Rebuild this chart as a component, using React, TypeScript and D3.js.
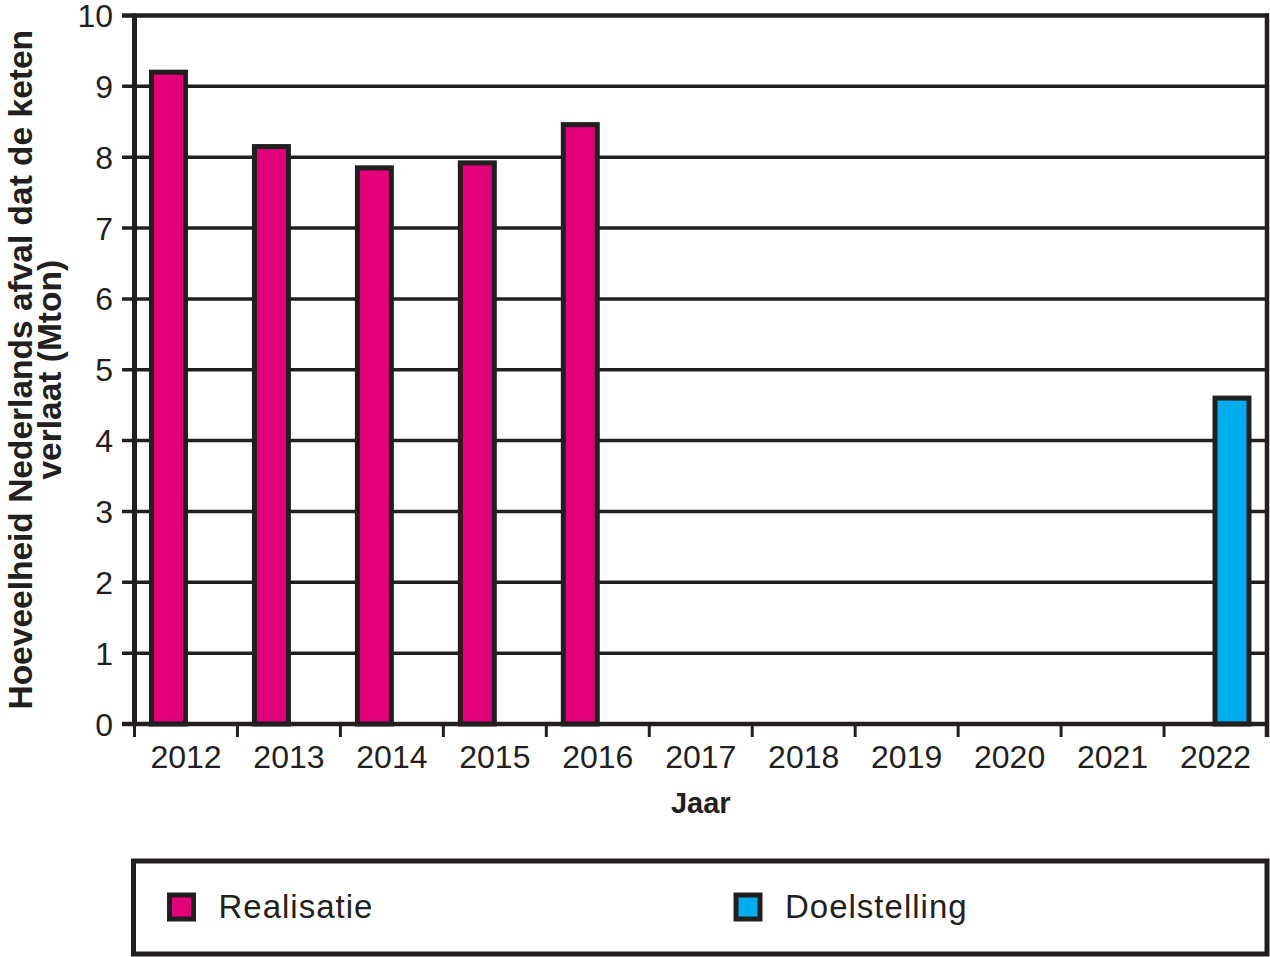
import React, { useEffect, useRef } from "react";
import * as d3 from "d3";

const years = ["2012","2013","2014","2015","2016","2017","2018","2019","2020","2021","2022"];
const seriesNames = ["Realisatie", "Doelstelling"];
const realisatie: (number | null)[] = [9.2, 8.15, 7.85, 7.92, 8.46, null, null, null, null, null, null];
const doelstelling: (number | null)[] = [null, null, null, null, null, null, null, null, null, null, 4.6];
const yTicks = [0, 1, 2, 3, 4, 5, 6, 7, 8, 9, 10];
const colors = ["#e2007a", "#00aeef"];
const yLabelLines = ["Hoeveelheid Nederlands afval dat de keten", "verlaat (Mton)"];
const xTitle = "Jaar";

const INK = "#231f20";
const FONT = "'Liberation Sans', Arial, Helvetica, sans-serif";

export default function App() {
  const ref = useRef<SVGSVGElement>(null);

  useEffect(() => {
    const svg = d3.select(ref.current);
    svg.selectAll("*").remove();

    const x0 = 134.5, x1 = 1267, yTop = 15.5, yBottom = 724;
    const x = d3.scaleBand<string>().domain(years).range([x0, x1]).padding(0);
    const bw = x.bandwidth();
    const inner = d3.scaleBand<string>().domain(seriesNames).range([bw * 0.165, bw * 0.825]).padding(0);
    const y = d3.scaleLinear().domain([0, 10]).range([yBottom, yTop]);

    const g = svg.append("g");

    // gridlines
    g.selectAll("line.grid")
      .data(yTicks.filter((t) => t !== 0 && t !== 10))
      .enter()
      .append("line")
      .attr("x1", 122)
      .attr("x2", x1)
      .attr("y1", (d) => y(d))
      .attr("y2", (d) => y(d))
      .attr("stroke", INK)
      .attr("stroke-width", 3.5);

    // top line
    g.append("line").attr("x1", 122).attr("x2", x1 + 2).attr("y1", y(10)).attr("y2", y(10))
      .attr("stroke", INK).attr("stroke-width", 4.5);

    // y tick labels
    g.selectAll("text.yt")
      .data(yTicks)
      .enter()
      .append("text")
      .attr("x", 113)
      .attr("y", (d) => y(d) + 11.5)
      .attr("text-anchor", "end")
      .attr("font-family", FONT)
      .attr("font-size", 32)
      .attr("fill", INK)
      .text((d) => String(d));

    // bars
    const series = [realisatie, doelstelling];
    series.forEach((vals, si) => {
      g.selectAll(`rect.s${si}`)
        .data(years.map((yr, i) => ({ yr, v: vals[i] })).filter((d) => d.v != null))
        .enter()
        .append("rect")
        .attr("x", (d) => (x(d.yr) as number) + (inner(seriesNames[si]) as number))
        .attr("width", inner.bandwidth())
        .attr("y", (d) => y(d.v as number))
        .attr("height", (d) => yBottom - y(d.v as number))
        .attr("fill", colors[si])
        .attr("stroke", INK)
        .attr("stroke-width", 5);
    });

    // y axis line
    g.append("line").attr("x1", x0).attr("x2", x0).attr("y1", yTop - 2).attr("y2", yBottom + 2)
      .attr("stroke", INK).attr("stroke-width", 5);
    // right border
    g.append("line").attr("x1", x1).attr("x2", x1).attr("y1", yTop - 2).attr("y2", 737)
      .attr("stroke", INK).attr("stroke-width", 4.5);
    // x axis line
    g.append("line").attr("x1", 122).attr("x2", x1 + 2).attr("y1", yBottom).attr("y2", yBottom)
      .attr("stroke", INK).attr("stroke-width", 4.5);

    // x ticks
    const tickPos = years.map((yr) => x(yr) as number);
    g.selectAll("line.xt")
      .data(tickPos)
      .enter()
      .append("line")
      .attr("x1", (d) => d)
      .attr("x2", (d) => d)
      .attr("y1", yBottom)
      .attr("y2", 737)
      .attr("stroke", INK)
      .attr("stroke-width", 3);

    // x tick labels
    g.selectAll("text.xl")
      .data(years)
      .enter()
      .append("text")
      .attr("x", (d) => (x(d) as number) + bw / 2)
      .attr("y", 768)
      .attr("text-anchor", "middle")
      .attr("font-family", FONT)
      .attr("font-size", 32)
      .attr("fill", INK)
      .text((d) => d);

    // x title
    g.append("text")
      .attr("x", (x0 + x1) / 2)
      .attr("y", 813)
      .attr("text-anchor", "middle")
      .attr("font-family", FONT)
      .attr("font-weight", "bold")
      .attr("font-size", 29)
      .attr("fill", INK)
      .text(xTitle);

    // y title
    const cy = (yTop + yBottom) / 2;
    const baselines = [32, 61];
    yLabelLines.forEach((line, i) => {
      g.append("text")
        .attr("transform", `translate(${baselines[i]},${cy}) rotate(-90)`)
        .attr("text-anchor", "middle")
        .attr("font-family", FONT)
        .attr("font-weight", "bold")
        .attr("font-size", 33.5)
        .attr("fill", INK)
        .text(line);
    });

    // legend
    g.append("rect")
      .attr("x", 133.5)
      .attr("y", 861)
      .attr("width", x1 - 133.5)
      .attr("height", 93)
      .attr("fill", "none")
      .attr("stroke", INK)
      .attr("stroke-width", 5);

    const legendX = [169.5, 736];
    seriesNames.forEach((name, i) => {
      g.append("rect")
        .attr("x", legendX[i])
        .attr("y", 895)
        .attr("width", 24)
        .attr("height", 24)
        .attr("fill", colors[i])
        .attr("stroke", INK)
        .attr("stroke-width", 5);
      g.append("text")
        .attr("x", legendX[i] + 49)
        .attr("y", 918)
        .attr("font-family", FONT)
        .attr("font-size", 33)
        .attr("letter-spacing", 1)
        .attr("fill", INK)
        .text(name);
    });
  }, []);

  return (
    <svg
      ref={ref}
      width={1270}
      height={957}
      style={{ position: "absolute", left: 0, top: 0, background: "#fff" }}
    />
  );
}
